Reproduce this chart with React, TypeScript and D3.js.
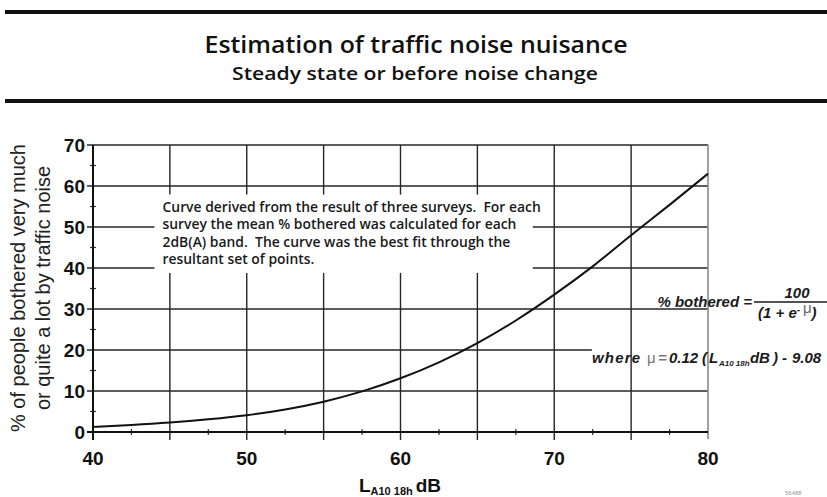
import React from "react";
import * as d3 from "d3";

// ---- data ----
const levelsDb = [40, 42.5, 45, 47.5, 50, 52.5, 55, 57.5, 60, 62.5, 65, 67.5, 70, 72.5, 75, 77.5, 80];
const percentBothered = [1.25, 1.7, 2.3, 3.1, 4.1, 5.5, 7.4, 9.9, 13.1, 17.0, 21.7, 27.2, 33.5, 40.4, 48.0, 55.4, 63.0];
const xTickValues = [40, 50, 60, 70, 80];
const yTickValues = [0, 10, 20, 30, 40, 50, 60, 70];
const xGridValues = [45, 50, 55, 60, 65, 70, 75];
const xMinorValues = [42.5, 47.5, 52.5, 57.5, 62.5, 67.5, 72.5, 77.5];
const yMinorValues = [5, 15, 25, 35, 45, 55, 65];
const noteLines = [
  "Curve derived from the result of three surveys.  For each",
  "survey the mean % bothered was calculated for each",
  "2dB(A) band.  The curve was the best fit through the",
  "resultant set of points.",
];
const titleText = "Estimation of traffic noise nuisance";
const subtitleText = "Steady state or before noise change";
const yLabelLines = ["% of people bothered very much", "or quite a lot by traffic noise"];

// note box extent (data space) and formula cut of the 20% gridline
const noteDbRange = [44.0, 68.6];
const notePctRange = [38.8, 57.9];
const formulaCutDb = 72.45;
const formulaCutPct = 20;

const W = 827;
const H = 497;

export default function App() {
  const x = d3.scaleLinear().domain([40, 80]).range([93, 708]);
  const y = d3.scaleLinear().domain([0, 70]).range([432, 145]);
  const line = d3
    .line<number>()
    .x((_, i) => x(levelsDb[i]))
    .y((d) => y(d))
    .curve(d3.curveMonotoneX);

  const gridColor = "#262626";
  const font = "'Liberation Sans', Arial, sans-serif";
  const headFont = "'Open Sans', 'Liberation Sans', sans-serif";
  const noteX0 = x(noteDbRange[0]);
  const noteX1 = x(noteDbRange[1]);
  const noteYTop = y(notePctRange[1]);
  const noteYBot = y(notePctRange[0]);

  const vSegs: [number, number, number][] = [];
  xGridValues.forEach((v) => {
    const px = x(v);
    if (v > noteDbRange[0] && v < noteDbRange[1]) {
      vSegs.push([px, y(70), noteYTop]);
      vSegs.push([px, noteYBot, y(0) + 8]);
    } else {
      vSegs.push([px, y(70), y(0) + 8]);
    }
  });
  const hSegs: [number, number, number][] = [];
  yTickValues.filter((v) => v > 0).forEach((v) => {
    const py = y(v);
    if (v > notePctRange[0] && v < notePctRange[1]) {
      hSegs.push([py, x(40) - 6, noteX0]);
      hSegs.push([py, noteX1, x(80)]);
    } else if (v === formulaCutPct) {
      hSegs.push([py, x(40) - 6, x(formulaCutDb)]);
    } else {
      hSegs.push([py, x(40) - 6, x(80)]);
    }
  });

  const fx = x(formulaCutDb);

  return (
    <svg
      width={W}
      height={H}
      viewBox={`0 0 ${W} ${H}`}
      style={{ position: "absolute", left: 0, top: 0, background: "#fff" }}
    >
      <rect width={W} height={H} fill="#fff" />
      {/* header rules */}
      <line x1={5} x2={W} y1={12} y2={12} stroke="#111" strokeWidth={4} />
      <line x1={5} x2={W} y1={101} y2={101} stroke="#111" strokeWidth={4} />
      <text
        x={416}
        y={53}
        textAnchor="middle"
        fontFamily={headFont}
        fontWeight={600}
        fontSize={23}
        fill="#111"
        textLength={423}
        lengthAdjust="spacingAndGlyphs"
      >
        {titleText}
      </text>
      <text
        x={415}
        y={80}
        textAnchor="middle"
        fontFamily={headFont}
        fontWeight={600}
        fontSize={17.5}
        fill="#111"
        textLength={366}
        lengthAdjust="spacingAndGlyphs"
      >
        {subtitleText}
      </text>

      {/* grid */}
      {vSegs.map(([px, a, b], i) => (
        <line key={"v" + i} x1={px} x2={px} y1={a} y2={b} stroke={gridColor} strokeWidth={1.4} />
      ))}
      {hSegs.map(([py, a, b], i) => (
        <line key={"h" + i} x1={a} x2={b} y1={py} y2={py} stroke={gridColor} strokeWidth={1.4} />
      ))}
      {/* right border at 80 */}
      <line x1={x(80)} x2={x(80)} y1={y(70)} y2={y(0) + 7} stroke="#8a8a8a" strokeWidth={1.6} />

      {/* minor ticks */}
      {xMinorValues.map((v) => (
        <line key={"xm" + v} x1={x(v)} x2={x(v)} y1={y(0) - 3} y2={y(0) + 3} stroke="#333" strokeWidth={1.2} />
      ))}
      {yMinorValues.map((v) => (
        <line key={"ym" + v} x1={x(40) - 3} x2={x(40) + 3} y1={y(v)} y2={y(v)} stroke="#333" strokeWidth={1.2} />
      ))}

      {/* axes */}
      <line x1={x(40)} x2={x(40)} y1={y(70)} y2={y(0) + 8} stroke="#111" strokeWidth={2} />
      <line x1={x(40) - 6} x2={x(80)} y1={y(0)} y2={y(0)} stroke="#111" strokeWidth={2} />

      {/* curve */}
      <path d={line(percentBothered) || ""} fill="none" stroke="#111" strokeWidth={2} />

      {/* tick labels */}
      {yTickValues.map((v) => (
        <text
          key={"yl" + v}
          x={x(40) - 8}
          y={y(v) + 7}
          textAnchor="end"
          fontFamily={font}
          fontWeight="bold"
          fontSize={19}
          fill="#111"
        >
          {v}
        </text>
      ))}
      {xTickValues.map((v) => (
        <text
          key={"xl" + v}
          x={x(v)}
          y={y(0) + 33}
          textAnchor="middle"
          fontFamily={font}
          fontWeight="bold"
          fontSize={19}
          fill="#111"
        >
          {v}
        </text>
      ))}

      {/* y axis label */}
      {yLabelLines.map((t, i) => (
        <text
          key={"ylab" + i}
          transform={`translate(${25 + i * 25},${288}) rotate(-90)`}
          textAnchor="middle"
          fontFamily={font}
          fontSize={20}
          fill="#222"
        >
          {t}
        </text>
      ))}

      {/* x axis label */}
      <text x={400} y={492} textAnchor="middle" fontFamily={font} fontWeight="bold" fill="#111">
        <tspan fontSize={19}>L</tspan>
        <tspan fontSize={11} dy={3}>A10 18h</tspan>
        <tspan fontSize={19} dy={-3} dx={3}>dB</tspan>
      </text>

      {/* note */}
      {noteLines.map((t, i) => (
        <text
          key={"n" + i}
          x={noteX0 + 8}
          y={212 + i * 17.3}
          fontFamily="'Open Sans', sans-serif"
          fontWeight={600}
          fontSize={13.9}
          fill="#1a1a1a"
          style={{ whiteSpace: "pre" }}
        >
          {t}
        </text>
      ))}

      {/* formula */}
      <g fontFamily={font} fontWeight="bold" fontStyle="italic" fill="#1a1a1a" fontSize={15}>
        <text x={752} y={307} textAnchor="end">% bothered =</text>
        <line x1={754} x2={W} y1={302} y2={302} stroke="#1a1a1a" strokeWidth={1.3} />
        <text x={797} y={298} textAnchor="middle">100</text>
        <text x={758} y={318}>
          (1 + e<tspan dy={-5} fontSize={10}>- </tspan>
          <tspan fontWeight="normal" fill="#666" fontStyle="normal">μ</tspan>
          <tspan dy={5}>)</tspan>
        </text>
        <text y={363} style={{ whiteSpace: "pre" }}>
          <tspan x={fx} letterSpacing={1.2}>where</tspan>
          <tspan x={fx + 55} fontWeight="normal" fill="#777" fontStyle="normal">μ</tspan>
          <tspan x={fx + 66} fill="#777">=</tspan>
          <tspan x={fx + 77}>0.12</tspan>
          <tspan x={fx + 110}>(</tspan>
          <tspan x={fx + 117}>L</tspan>
          <tspan x={fx + 127} dy={3} fontSize={8}>A10 18h</tspan>
          <tspan x={fx + 158} dy={-3}>dB</tspan>
          <tspan x={fx + 181}>)</tspan>
          <tspan x={fx + 190}>-</tspan>
          <tspan x={fx + 200}>9.08</tspan>
        </text>
      </g>

      {/* tiny plate code */}
      <text x={785} y={495} fontFamily={font} fontSize={6} fill="#999">56488</text>
    </svg>
  );
}
